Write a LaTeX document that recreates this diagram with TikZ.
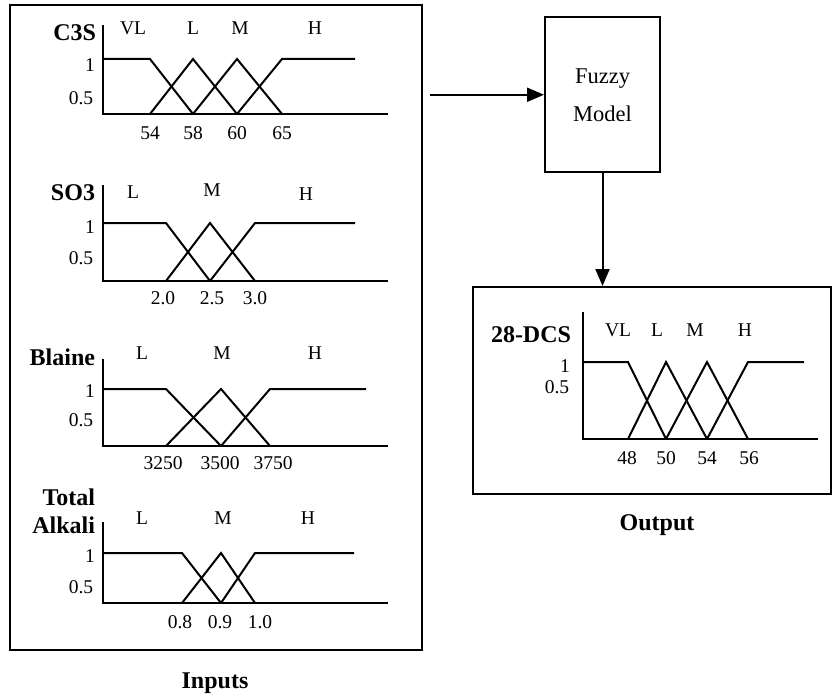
\documentclass[tikz,border=0pt]{standalone}
\usepackage{fontspec}
\setmainfont{Liberation Serif}
\usetikzlibrary{arrows.meta}
\begin{document}
\begin{tikzpicture}[x=1pt,y=-1pt,
  line width=2pt,
  lbl/.style={inner sep=0pt,font=\fontsize{19.5}{22}\selectfont},
  var/.style={inner sep=0pt,anchor=east,font=\fontsize{24}{26}\selectfont\bfseries},
  ttl/.style={inner sep=0pt,font=\fontsize{24}{26}\selectfont\bfseries},
  boxed/.style={draw,line width=2pt,inner sep=0pt},
  arr/.style={-{Triangle[length=17pt,width=14pt]},line width=2pt}]
\useasboundingbox (0,0) rectangle (832,698);

% boxes
\node[boxed,minimum width=412pt,minimum height=645pt] (inbox) at (216,327.5) {};
\node[boxed,minimum width=115pt,minimum height=154.5pt,align=center,
      font=\fontsize{22.5}{38}\selectfont] (fuzzy) at (602.5,94.75) {Fuzzy\\Model};
\node[boxed,minimum width=358pt,minimum height=207pt] (outbox) at (652,390.5) {};

% connectors
\coordinate (a0) at (430,94.75);
\draw[arr] (a0) -- (fuzzy.west);
\draw[arr] (fuzzy.south) -- (fuzzy.south |- outbox.north);

% ---- C3S
\draw (103,25) -- (103,114) -- (388,114);
\draw (103,59) -- (150,59) -- (193,114);
\draw (150,114) -- (193,59) -- (237,114);
\draw (193,114) -- (237,59) -- (282,114);
\draw (237,114) -- (282,59) -- (355,59);
\node[var] (c3s) at (97,33) {C3S};
\node[lbl] (c1) at (90,65) {1};
\node[lbl] (c05) at (81,98) {0.5};
\node[lbl] (c54) at (150,133) {54};
\node[lbl] (c58) at (193,133) {58};
\node[lbl] (c60) at (237,133) {60};
\node[lbl] (c65) at (282,133) {65};
\node[lbl] (cvl) at (133,28) {VL};
\node[lbl] (cl) at (193,28) {L};
\node[lbl] (cm) at (240,28) {M};
\node[lbl] (ch) at (315,28) {H};

% ---- SO3
\draw (103,185) -- (103,281) -- (388,281);
\draw (103,223) -- (166,223) -- (210,281);
\draw (166,281) -- (210,223) -- (255,281);
\draw (210,281) -- (255,223) -- (355,223);
\node[var] (so3) at (96,193) {SO3};
\node[lbl] (s1) at (90,227) {1};
\node[lbl] (s05) at (81,258) {0.5};
\node[lbl] (s20) at (163,298) {2.0};
\node[lbl] (s25) at (212,298) {2.5};
\node[lbl] (s30) at (255,298) {3.0};
\node[lbl] (sl) at (133,192) {L};
\node[lbl] (sm) at (212,190) {M};
\node[lbl] (sh) at (306,194) {H};

% ---- Blaine
\draw (103,359) -- (103,446) -- (388,446);
\draw (103,389) -- (166,389) -- (221,446);
\draw (166,446) -- (221,389) -- (270,446);
\draw (221,446) -- (270,389) -- (366,389);
\node[var] (bl) at (96,357) {Blaine};
\node[lbl] (b1) at (90,391) {1};
\node[lbl] (b05) at (81,420) {0.5};
\node[lbl] (b3250) at (163,463) {3250};
\node[lbl] (b3500) at (220,463) {3500};
\node[lbl] (b3750) at (273,463) {3750};
\node[lbl] (bll) at (142,353) {L};
\node[lbl] (blm) at (222,353) {M};
\node[lbl] (blh) at (315,353) {H};

% ---- Total Alkali
\draw (103,522) -- (103,603) -- (388,603);
\draw (103,553) -- (182,553) -- (221,603);
\draw (182,603) -- (221,553) -- (255,603);
\draw (221,603) -- (255,553) -- (354,553);
\node[var] (tot) at (96,497) {Total};
\node[var] (alk) at (96,525) {Alkali};
\node[lbl] (t1) at (90,556) {1};
\node[lbl] (t05) at (81,587) {0.5};
\node[lbl] (t08) at (180,622) {0.8};
\node[lbl] (t09) at (220,622) {0.9};
\node[lbl] (t10) at (260,622) {1.0};
\node[lbl] (tl) at (142,518) {L};
\node[lbl] (tm) at (223,518) {M};
\node[lbl] (th) at (308,518) {H};

% ---- Output 28-DCS
\draw (583,312) -- (583,439) -- (818,439);
\draw (583,362) -- (628,362) -- (666,439);
\draw (628,439) -- (666,362) -- (707,439);
\draw (666,439) -- (707,362) -- (748,439);
\draw (707,439) -- (748,362) -- (804,362);
\node[var] (dcs) at (572,335) {28-DCS};
\node[lbl] (o1) at (565,366) {1};
\node[lbl] (o05) at (557,387) {0.5};
\node[lbl] (o48) at (627,458) {48};
\node[lbl] (o50) at (666,458) {50};
\node[lbl] (o54) at (707,458) {54};
\node[lbl] (o56) at (749,458) {56};
\node[lbl] (ovl) at (618,330) {VL};
\node[lbl] (ol) at (657,330) {L};
\node[lbl] (om) at (695,330) {M};
\node[lbl] (oh) at (745,330) {H};

% titles
\node[ttl] (inputs) at (215,683) {Inputs};
\node[ttl] (output) at (657,525) {Output};
\end{tikzpicture}
\end{document}
